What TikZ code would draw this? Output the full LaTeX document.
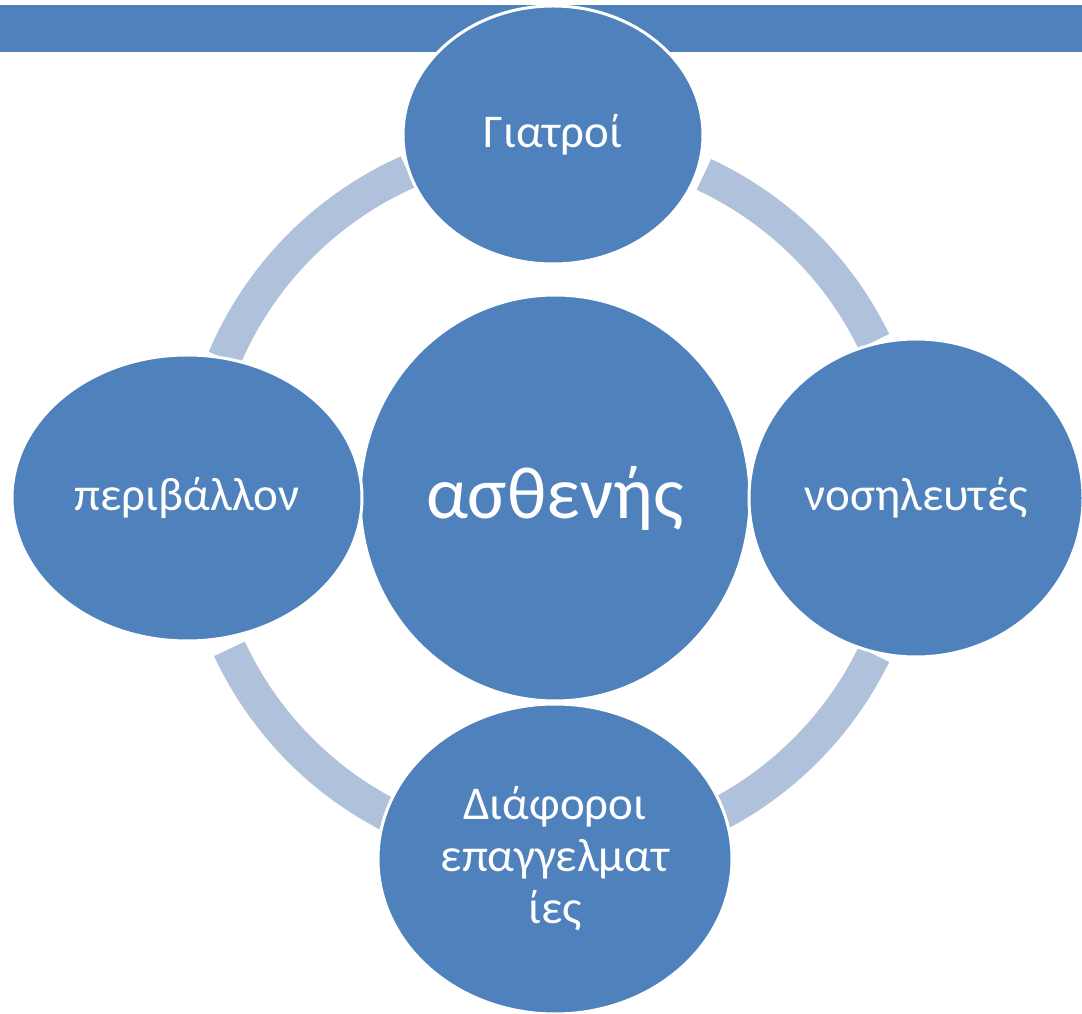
\documentclass[tikz,border=0pt]{standalone}
\usepackage{fontspec}
\setmainfont{Carlito}
\usetikzlibrary{shapes.geometric}
\usepackage{xcolor}
\definecolor{darkblue}{RGB}{79,129,189}
\definecolor{ringblue}{RGB}{176,193,220}

\begin{document}
\begin{tikzpicture}[x=1pt,y=1pt,
    bubble/.style={ellipse, fill=darkblue, draw=white, line width=3pt, inner sep=0pt,
      text=white, align=center, font=\fontsize{47}{52}\selectfont},
    ringarc/.style={ringblue, line width=34pt}]
  \useasboundingbox (0,0) rectangle (1082,1013);

  % Band
  \fill[darkblue] (0,961) rectangle (1082,1008);

  % Ring
  \coordinate (mid) at (553,515);
  \foreach \a/\b in {114/157, 26/65, -62/-26, -155/-117}
  {
    \draw[ringarc] (mid) ++(\a:357) arc[start angle=\a, end angle=\b, radius=357pt];
  }

  % Centre
  \node[bubble, minimum width=390pt, minimum height=406pt,
    font=\fontsize{74}{90}\selectfont] (patient) at (555,515) {ασθενής};

  % Outer bubbles
  \node[bubble, minimum width=300pt, minimum height=258pt] (doctors) at (553,878) {Γιατροί};
  \node[bubble, minimum width=350pt, minimum height=286pt] (env) at (187,515) {περιβάλλον};
  \node[bubble, minimum width=334pt, minimum height=318pt] (nurses) at (916,515) {νοσηλευτές};
  \node[bubble, minimum width=354pt, minimum height=310pt] (jobs) at (555,154) {Διάφοροι\\επαγγελματ\\ίες};

\end{tikzpicture}
\end{document}
